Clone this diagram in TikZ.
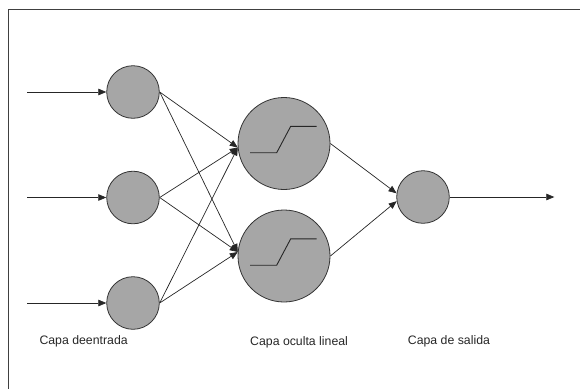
\documentclass[tikz,border=0pt]{standalone}
\usepackage{fontspec}
\setmainfont{Liberation Sans}
\usetikzlibrary{arrows.meta}

\colorlet{neuron}{black!35}
\colorlet{rim}{black!80}
\tikzset{
  neuron/.style={circle,fill=neuron,draw=rim,line width=0.8pt,inner sep=0pt},
  inneuron/.style={neuron,minimum size=52.6pt},
  hidneuron/.style={neuron,minimum size=92pt},
  syn/.style={-{Triangle[length=8pt,width=6.5pt]},line width=0.7pt,black!85},
  layername/.style={anchor=west,inner sep=0pt,text=black!85,font=\fontsize{12.3}{14}\selectfont},
}

\begin{document}
\begin{tikzpicture}[x=1pt,y=-1pt]
    \useasboundingbox (0,0) rectangle (580,388);
    \draw [line width=1.3pt,black!75] (8.7,9.7) rectangle (600,400);

    % capa de entrada
    \foreach \i in {0,1,2}
    {
      \node [inneuron] (in\i) at (133,92+\i*105.5) {} ;
      \coordinate (src\i) at (27.3,92+\i*105.5) ;
      \draw [syn] (src\i) -- (in\i) ;
    }

    % capa oculta
    \foreach \j in {0,1}
    {
      \node [hidneuron] (hid\j) at (284,143.5+\j*112.5) {} ;
      \draw [line width=0.9pt,black!85] (hid\j) ++(-34,9.2) -- ++(26.7,0)
        -- ++(14,-26.4) -- ++(26,0) ;
    }
    \foreach \i in {0,1,2}
    {
      \draw [syn] (in\i.east) -- (hid0.185) ;
      \draw [syn] (in\i.east) -- (hid1.175) ;
    }

    % capa de salida
    \node [inneuron] (out) at (423,197) {} ;
    \draw [syn] (hid0.east) -- (out.172) ;
    \draw [syn] (hid1.east) -- (out.189) ;
    \coordinate (sink) at (554.3,197) ;
    \draw [syn] (out) -- (sink) ;

    \node at (39.3,341.3) [layername] {Capa deentrada} ;
    \node at (250,342.7) [layername] {Capa oculta lineal} ;
    \node at (407.7,341.3) [layername] {Capa de salida} ;
  \end{tikzpicture}
\end{document}
